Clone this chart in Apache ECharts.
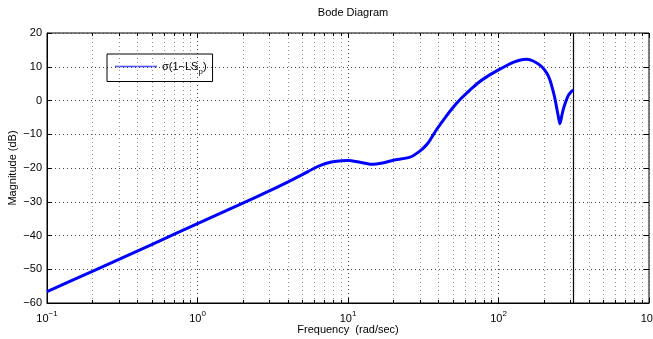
<!DOCTYPE html>
<html>
<head>
<meta charset="utf-8">
<script src="https://cdn.jsdelivr.net/npm/echarts@6/dist/echarts.min.js"></script>
<style>
  html, body { margin: 0; padding: 0; background: #fff; }
  #chart { width: 653px; height: 339px; }
</style>
</head>
<body>
<div id="chart"></div>
<script>
// frequency (rad/sec) and magnitude (dB)
const freq = [0.1, 0.2, 0.5, 1, 2, 3, 4, 5, 6.2, 7.2, 8.4, 10, 12, 14.4, 17, 20, 25.8, 30, 33, 35,
  38.8, 44, 50, 57, 64.6, 73, 83.4, 102, 116, 125, 140, 154, 170, 194, 210, 220, 230, 237, 249,
  256, 262, 267, 277, 291, 300, 314]
const mag = [-56.6, -50.6, -42.6, -36.5, -30.4, -26.8, -24.1, -21.9, -19.7, -18.6, -18.0, -17.8,
  -18.3, -18.9, -18.5, -17.7, -16.8, -15.0, -13.3, -11.8, -8.6, -5.2, -2.0, 0.8, 3.1, 5.2, 7.0,
  9.3, 10.6, 11.3, 12.0, 12.2, 11.7, 10.0, 8.0, 6.0, 3.0, 0.6, -4.4, -6.9, -5.0, -3.3, -0.9, 1.5,
  2.3, 3.2]
const xTickExp = { '0.1': '\u22121', '1': '0', '10': '1', '100': '2', '1000': '3' }
const nyquist = 314.16

const minorX = []
for (const d of [0.1, 1, 10, 100]) {
  for (let k = 2; k <= 9; k++) minorX.push(+(d * k).toPrecision(3))
}

const font = 'Liberation Sans, Arial, sans-serif'
const dotted = (c) => ({ color: c, width: 1, type: [1, 3] })

const chart = echarts.init(document.getElementById('chart'), null, { renderer: 'canvas' })

const data = freq.map((f, i) => [f, mag[i]])

chart.setOption({
  animation: false,
  textStyle: { fontFamily: font },
  title: {
    text: 'Bode Diagram', left: 348, textAlign: 'center', top: 2,
    textStyle: { fontSize: 11, fontWeight: 'normal', color: '#000', fontFamily: font }
  },
  grid: {
    left: 47, right: 4, top: 33, bottom: 36, show: true,
    borderColor: '#000', borderWidth: 1,
    outerBoundsMode: 'none', containLabel: false
  },
  legend: {
    left: 107, top: 54,
    padding: [7, 6, 6, 8],
    borderColor: '#000', borderWidth: 1,
    itemWidth: 42, itemHeight: 1.5,
    data: [{ name: 'sigma', icon: 'rect', itemStyle: { color: '#4a4aff' } }],
    formatter: () => '{t|\u03c3(1\u2212LS}{p|p}{t|)}',
    textStyle: {
      fontSize: 11, color: '#000',
      rich: {
        t: { fontSize: 11, fontFamily: font, color: '#000' },
        p: { fontSize: 8, fontFamily: font, color: '#000', padding: [10, 0, 0, 0] }
      }
    }
  },
  xAxis: [
    {
      type: 'log', logBase: 10, min: 0.1, max: 1000,
      name: 'Frequency  (rad/sec)', nameLocation: 'middle', nameGap: 21,
      nameMoveOverlap: false,
      nameTextStyle: { fontSize: 11, color: '#000' },
      axisLine: { onZero: false, lineStyle: { color: '#000', width: 1 } },
      axisTick: { inside: true, length: 5, lineStyle: { color: '#000' } },
      splitLine: { show: true, lineStyle: dotted('#444') },
      axisLabel: {
        margin: 5,
        formatter: (v) => '{b|10}{s|' + (xTickExp[String(+v.toPrecision(3))] || '') + '}',
        rich: {
          b: { fontSize: 11, color: '#000', fontFamily: font, padding: [5, 0, 0, 0] },
          s: { fontSize: 8, color: '#000', fontFamily: font, padding: [0, 0, 4, 0] }
        }
      }
    },
    {
      type: 'log', logBase: 10, min: 0.1, max: 1000, position: 'top',
      axisLine: { show: false, onZero: false },
      axisTick: { inside: true, length: 5, lineStyle: { color: '#000' } },
      axisLabel: { show: false },
      splitLine: { show: false }
    }
  ],
  yAxis: [
    {
      type: 'value', min: -60, max: 20, interval: 10,
      name: 'Magnitude (dB)', nameLocation: 'middle', nameGap: 29,
      nameMoveOverlap: false,
      nameTextStyle: { fontSize: 11, color: '#000' },
      axisLine: { show: true, onZero: false, lineStyle: { color: '#000', width: 1 } },
      axisTick: { show: true, inside: true, length: 5, lineStyle: { color: '#000' } },
      splitLine: { show: true, lineStyle: dotted('#444') },
      axisLabel: {
        fontSize: 11, color: '#000', margin: 5,
        formatter: (v) => String(v).replace('-', '\u2212')
      }
    },
    {
      type: 'value', min: -60, max: 20, interval: 10, position: 'right',
      axisLine: { show: false, onZero: false },
      axisTick: { show: true, inside: true, length: 5, lineStyle: { color: '#000' } },
      axisLabel: { show: false },
      splitLine: { show: false }
    }
  ],
  series: [
    {
      name: 'grid-minor', type: 'line', data: [], silent: true,
      markLine: {
        silent: true, symbol: 'none', label: { show: false },
        lineStyle: dotted('#999'),
        data: minorX.map((f) => ({ xAxis: f }))
      }
    },
    {
      name: 'ticks-minor', type: 'line', data: [], silent: true,
      markLine: {
        silent: true, symbol: 'none', label: { show: false },
        lineStyle: { color: '#000', width: 1, type: 'solid' },
        data: minorX.flatMap((f) => [
          [{ coord: [f, -60] }, { coord: [f, -59.1] }],
          [{ coord: [f, 20] }, { coord: [f, 19.1] }]
        ])
      }
    },
    {
      name: 'sigma', type: 'line', data: data,
      smooth: 0.25, showSymbol: false, symbol: 'none',
      lineStyle: { color: '#0000ff', width: 3 },
      itemStyle: { color: '#0000ff' },
      z: 5,
      markLine: {
        silent: true, symbol: 'none', label: { show: false },
        lineStyle: { color: '#000', width: 1.2, type: 'solid' },
        data: [{ xAxis: nyquist }]
      }
    }
  ]
})
</script>
</body>
</html>
